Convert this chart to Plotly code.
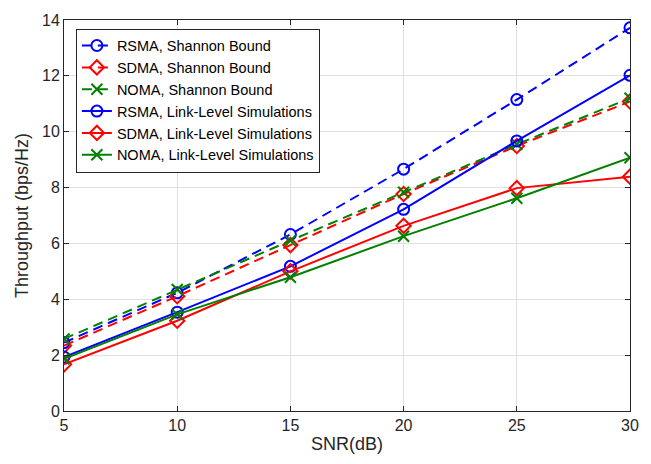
import plotly.graph_objects as go

snr = [5, 10, 15, 20, 25, 30]
rsma_shannon = [2.45, 4.23, 6.32, 8.66, 11.15, 13.72]
sdma_shannon = [2.34, 4.11, 5.94, 7.77, 9.49, 11.08]
noma_shannon = [2.58, 4.35, 6.10, 7.83, 9.55, 11.20]
rsma_link = [1.93, 3.54, 5.18, 7.22, 9.67, 12.02]
sdma_link = [1.67, 3.23, 5.00, 6.63, 7.98, 8.39]
noma_link = [1.87, 3.46, 4.79, 6.26, 7.62, 9.07]

series = [
    ("RSMA, Shannon Bound", rsma_shannon, "#0000ff", "circle-open", "10px,6px"),
    ("SDMA, Shannon Bound", sdma_shannon, "#ff0000", "diamond-open", "10px,6px"),
    ("NOMA, Shannon Bound", noma_shannon, "#008000", "x-thin-open", "10px,6px"),
    ("RSMA, Link-Level Simulations", rsma_link, "#0000ff", "circle-open", "solid"),
    ("SDMA, Link-Level Simulations", sdma_link, "#ff0000", "diamond-open", "solid"),
    ("NOMA, Link-Level Simulations", noma_link, "#008000", "x-thin-open", "solid"),
]

FONT = "Liberation Sans, Arial"

fig = go.Figure()
for name, ys, col, sym, dash in series:
    fig.add_trace(go.Scatter(
        x=snr, y=ys, name=name, mode="lines+markers",
        line=dict(color=col, width=2, dash=dash),
        marker=dict(symbol=sym, size=11, color=col, line=dict(color=col, width=2)),
    ))

axis_common = dict(
    showline=True, linecolor="#262626", linewidth=1, mirror="ticks",
    ticks="inside", ticklen=5, tickcolor="#262626",
    showgrid=True, gridcolor="#e0e0e0", gridwidth=1, zeroline=False,
    tickfont=dict(family=FONT, size=16, color="#262626"),
)
fig.update_xaxes(range=[5, 30], tickvals=[5, 10, 15, 20, 25, 30],
                 title=dict(text="SNR(dB)", font=dict(family=FONT, size=18, color="#262626"), standoff=4),
                 **axis_common)
fig.update_yaxes(range=[0, 14], tickvals=[0, 2, 4, 6, 8, 10, 12, 14],
                 title=dict(text="Throughput (bps/Hz)", font=dict(family=FONT, size=18, color="#262626"), standoff=8),
                 **axis_common)

fig.update_layout(
    width=651, height=464,
    margin=dict(l=64, r=21, t=16, b=53),
    plot_bgcolor="white", paper_bgcolor="white",
    legend=dict(x=0.021, y=0.978, xanchor="left", yanchor="top",
                bgcolor="white", bordercolor="#262626", borderwidth=1,
                font=dict(family=FONT, size=14.5, color="black"),
                tracegroupgap=0, itemwidth=30),
    showlegend=True,
)

fig.write_html("out.html", config={"displayModeBar": False},
               post_script="document.body.style.margin='0';document.body.style.padding='0';")
